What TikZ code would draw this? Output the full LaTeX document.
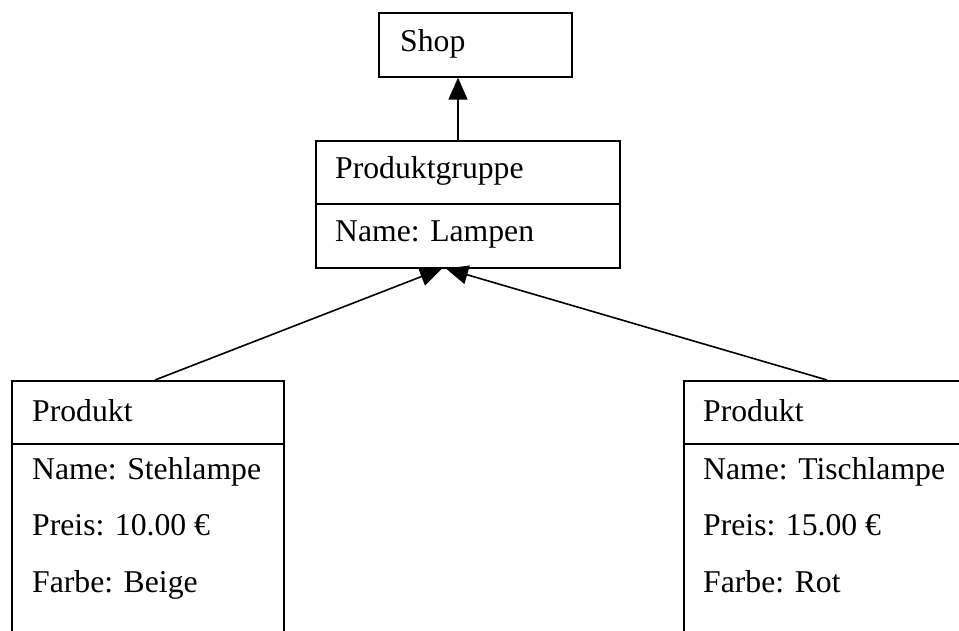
\documentclass[tikz,border=0pt]{standalone}
\usepackage{fontspec}
\setmainfont{Liberation Serif}
\usetikzlibrary{arrows.meta,calc}
\begin{document}
\begin{tikzpicture}[x=1pt,y=-1pt,
  box/.style={draw=black,line width=1.6pt,rectangle,inner sep=0pt,anchor=north west},
  lbl/.style={anchor=base west,inner sep=0pt,font=\fontsize{31.7}{38}\selectfont},
  gen/.style={line width=1.6pt,-{Triangle[length=22pt,width=19pt]}}]
\useasboundingbox (0,0) rectangle (959,631);
\clip (0,0) rectangle (959,631);
% Shop
\node[box,minimum width=193pt,minimum height=64pt] (shop) at (378,12) {};
\node[lbl] (tshop) at (400,52) {Shop};
% Produktgruppe
\node[box,minimum width=304pt,minimum height=63pt] (pgh) at (315,140) {};
\node[box,minimum width=304pt,minimum height=64pt] (pga) at (315,203) {};
\node[lbl] (tpg) at (335,179) {Produktgruppe};
\node[lbl] (tpgn) at (335,242) {Name: Lampen};
% Produkt left
\node[box,minimum width=272pt,minimum height=63pt] (p1h) at (11,380) {};
\node[box,minimum width=272pt,minimum height=250pt] (p1a) at (11,443) {};
\node[lbl] (tp1) at (32,421) {Produkt};
\node[lbl] (tp1n) at (32,479) {Name: Stehlampe};
\node[lbl] (tp1p) at (32,535) {Preis: 10.00 €};
\node[lbl] (tp1f) at (32,592) {Farbe: Beige};
% Produkt right
\node[box,minimum width=300pt,minimum height=63pt] (p2h) at (683,380) {};
\node[box,minimum width=300pt,minimum height=250pt] (p2a) at (683,443) {};
\node[lbl] (tp2) at (703,421) {Produkt};
\node[lbl] (tp2n) at (703,479) {Name: Tischlampe};
\node[lbl] (tp2p) at (703,535) {Preis: 15.00 €};
\node[lbl] (tp2f) at (703,592) {Farbe: Rot};
% connectors
\draw[gen] ($(pgh.north west)+(143,0)$) -- ($(shop.south west)+(80,0)$);
\draw[gen] ($(p1h.north west)+(144,0)$) -- ($(pga.south west)+(127,0)$);
\draw[gen] ($(p2h.north west)+(144,0)$) -- ($(pga.south west)+(131,0)$);
\end{tikzpicture}
\end{document}
